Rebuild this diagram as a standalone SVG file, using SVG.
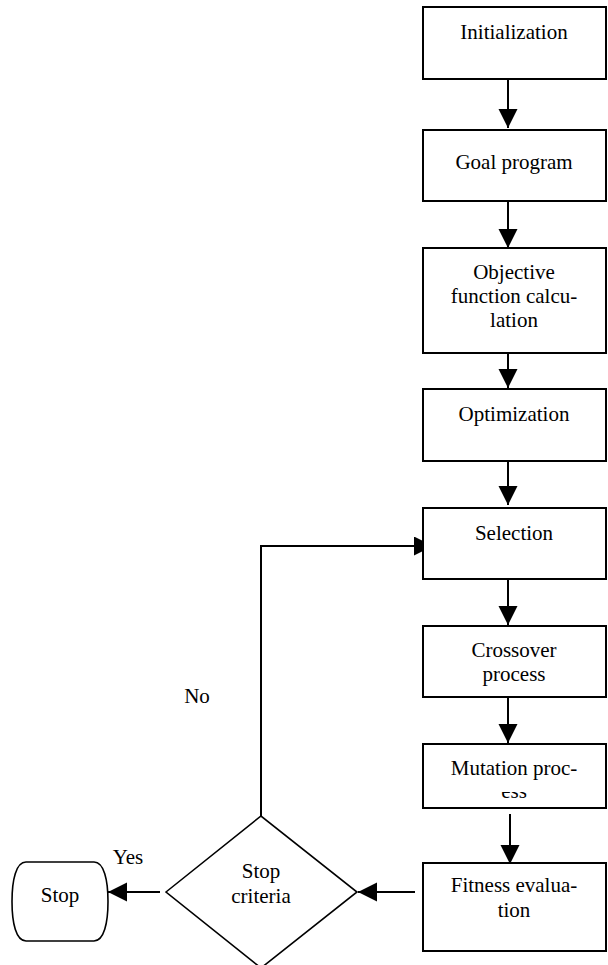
<svg xmlns="http://www.w3.org/2000/svg" width="608" height="965" viewBox="0 0 608 965">
<style>
.box{fill:#fff;stroke:#000;stroke-width:2}
.shape{fill:#fff;stroke:#000;stroke-width:1.6}
.ln{fill:none;stroke:#000;stroke-width:2}
text{font-family:"Liberation Serif","Times New Roman",serif;font-size:21px;fill:#000;text-anchor:middle}
</style>
<defs>
<marker id="ah" markerUnits="userSpaceOnUse" markerWidth="20" markerHeight="20" refX="19" refY="9.5" orient="auto">
<path d="M0,0 L19,9.5 L0,19 Z" fill="#000"/>
</marker>
<clipPath id="essclip"><rect x="423" y="792" width="183" height="20"/></clipPath>
</defs>
<g id="connectors">
<line class="ln" x1="508" y1="79" x2="508" y2="128" marker-end="url(#ah)"/>
<line class="ln" x1="508" y1="201" x2="508" y2="248" marker-end="url(#ah)"/>
<line class="ln" x1="508" y1="353" x2="508" y2="388" marker-end="url(#ah)"/>
<line class="ln" x1="508" y1="461" x2="508" y2="505" marker-end="url(#ah)"/>
<line class="ln" x1="508" y1="579" x2="508" y2="625" marker-end="url(#ah)"/>
<line class="ln" x1="508" y1="697" x2="508" y2="743" marker-end="url(#ah)"/>
<line class="ln" x1="510" y1="814" x2="510" y2="864" marker-end="url(#ah)"/>
<line class="ln" x1="415" y1="892" x2="358" y2="892" marker-end="url(#ah)"/>
<line class="ln" x1="160" y1="892" x2="108" y2="892" marker-end="url(#ah)"/>
<polyline class="ln" points="261,816 261,546 433,546" marker-end="url(#ah)"/>
<text x="197" y="703">No</text>
<text x="128" y="864">Yes</text>
</g>
<g id="init">
<rect class="box" x="423" y="7" width="183" height="72"/>
<text x="514" y="39">Initialization</text>
</g>
<g id="goal">
<rect class="box" x="423" y="130" width="183" height="71"/>
<text x="514" y="169">Goal program</text>
</g>
<g id="objective">
<rect class="box" x="423" y="248" width="183" height="105"/>
<text x="514" y="279">Objective</text>
<text x="514" y="303">function calcu-</text>
<text x="514" y="327">lation</text>
</g>
<g id="optimization">
<rect class="box" x="423" y="389" width="183" height="72"/>
<text x="514" y="421">Optimization</text>
</g>
<g id="selection">
<rect class="box" x="423" y="508" width="183" height="71"/>
<text x="514" y="540">Selection</text>
</g>
<g id="crossover">
<rect class="box" x="423" y="626" width="183" height="71"/>
<text x="514" y="657">Crossover</text>
<text x="514" y="681">process</text>
</g>
<g id="mutation">
<rect class="box" x="423" y="744" width="183" height="64"/>
<text x="514" y="775">Mutation proc-</text>
<text x="514" y="798" clip-path="url(#essclip)">ess</text>
</g>
<g id="fitness">
<rect class="box" x="423" y="863" width="183" height="88"/>
<text x="514" y="892">Fitness evalua-</text>
<text x="514" y="917">tion</text>
</g>
<g id="decision">
<polygon class="shape" points="166,892 261,816 357,892 261,968"/>
<text x="261" y="878">Stop</text>
<text x="261" y="903">criteria</text>
</g>
<g id="stop">
<path class="shape" d="M26,862 H94 C104,862 108,880 108,901.5 C108,923 104,941 94,941 H26 C16,941 12,923 12,901.5 C12,880 16,862 26,862 Z"/>
<text x="60" y="902">Stop</text>
</g>
</svg>
